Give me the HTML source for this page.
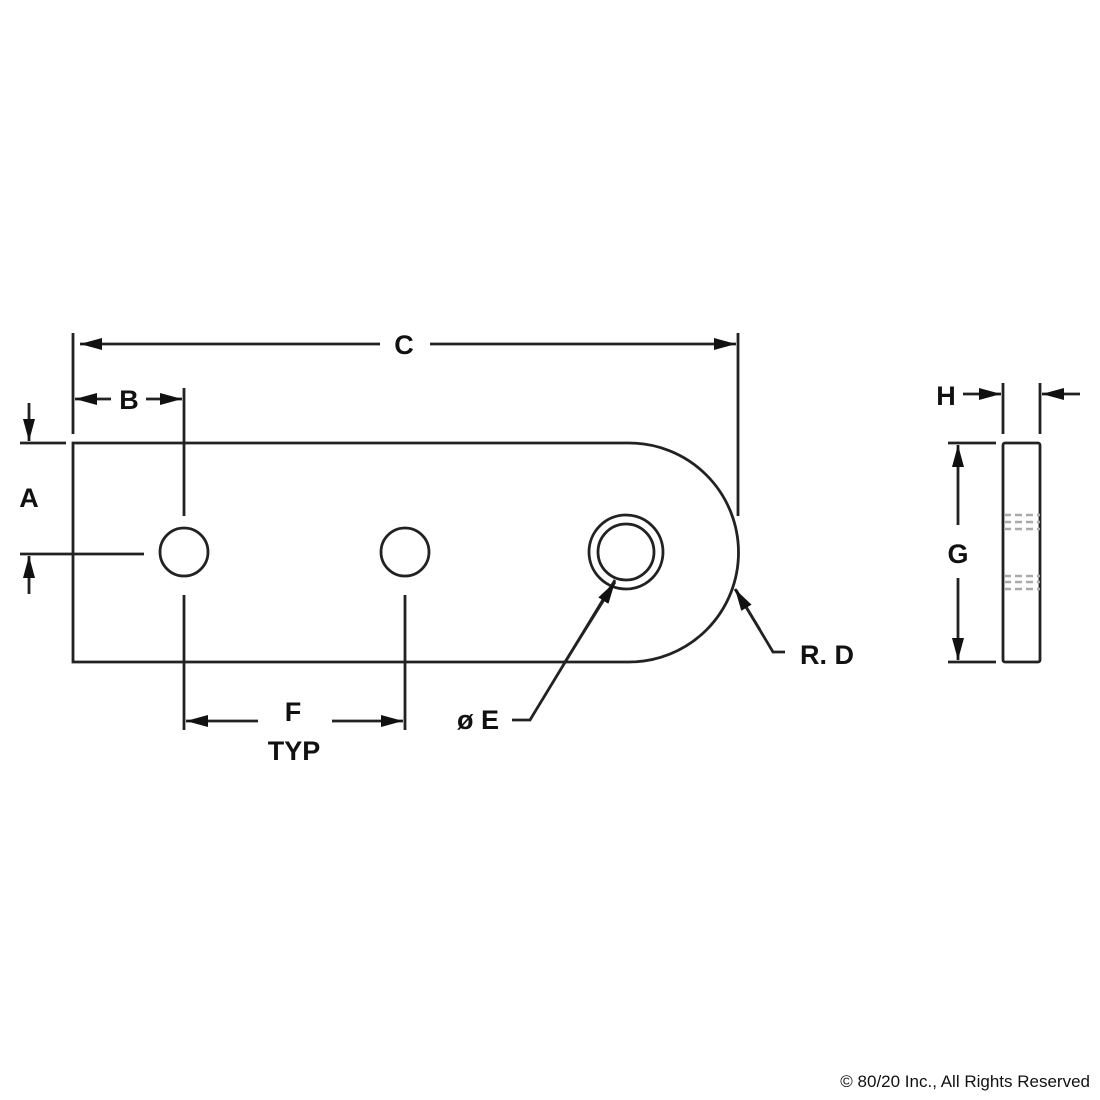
<!DOCTYPE html>
<html><head><meta charset="utf-8"><style>
html,body{margin:0;padding:0;background:#fff;}
svg{display:block}
text{font-family:"Liberation Sans",Arial,sans-serif;fill:#111;}
</style></head><body>
<svg width="1100" height="1100" viewBox="0 0 1100 1100" xmlns="http://www.w3.org/2000/svg">
<defs>
<marker id="ar" viewBox="0 0 22 12" refX="22" refY="6" markerWidth="22" markerHeight="12" markerUnits="userSpaceOnUse" orient="auto">
<path d="M0,0 L22,6 L0,12 Z" fill="#111"/>
</marker>
</defs>
<g stroke="#222" stroke-width="2.8" fill="none">
<path d="M73,443 L629,443 A109.5,109.5 0 0 1 629,662 L73,662 Z"/>
<circle cx="184" cy="552" r="24"/>
<circle cx="405" cy="552" r="24"/>
<circle cx="626" cy="552" r="37"/>
<circle cx="626" cy="552" r="28"/>
<line x1="73" y1="333" x2="73" y2="434"/>
<line x1="738" y1="333" x2="738" y2="516"/>
<line x1="184" y1="388" x2="184" y2="516"/>
<line x1="184" y1="595" x2="184" y2="730"/>
<line x1="405" y1="595" x2="405" y2="730"/>
<line x1="20" y1="443" x2="66" y2="443"/>
<line x1="20" y1="554" x2="144" y2="554"/>
<line x1="300" y1="344" x2="80" y2="344" marker-end="url(#ar)"/>
<line x1="300" y1="344" x2="380" y2="344"/>
<line x1="430" y1="344" x2="736" y2="344" marker-end="url(#ar)"/>
<line x1="111" y1="399" x2="75" y2="399" marker-end="url(#ar)"/>
<line x1="146" y1="399" x2="182" y2="399" marker-end="url(#ar)"/>
<line x1="29" y1="403" x2="29" y2="441" marker-end="url(#ar)"/>
<line x1="29" y1="594" x2="29" y2="556" marker-end="url(#ar)"/>
<line x1="258" y1="721" x2="186" y2="721" marker-end="url(#ar)"/>
<line x1="332" y1="721" x2="403" y2="721" marker-end="url(#ar)"/>
<polyline points="512,720 530,720 615,580"/>
<line x1="565" y1="662" x2="615" y2="582" marker-end="url(#ar)"/>
<polyline points="785,652 773,652 736,590"/>
<line x1="760" y1="630" x2="735" y2="589" marker-end="url(#ar)"/>
<rect x="1003" y="443" width="37" height="219" rx="2"/>
<line x1="1003" y1="383" x2="1003" y2="434"/>
<line x1="1040" y1="383" x2="1040" y2="434"/>
<line x1="963" y1="394" x2="1001" y2="394" marker-end="url(#ar)"/>
<line x1="1080" y1="394" x2="1042" y2="394" marker-end="url(#ar)"/>
<line x1="948" y1="443" x2="996" y2="443"/>
<line x1="948" y1="662" x2="996" y2="662"/>
<line x1="958" y1="525" x2="958" y2="445" marker-end="url(#ar)"/>
<line x1="958" y1="578" x2="958" y2="660" marker-end="url(#ar)"/>
</g>
<g stroke="#aaa" stroke-width="2.5" stroke-dasharray="7,4">
<line x1="1004" y1="515" x2="1040" y2="515"/>
<line x1="1004" y1="522" x2="1040" y2="522"/>
<line x1="1004" y1="529" x2="1040" y2="529"/>
<line x1="1004" y1="576" x2="1040" y2="576"/>
<line x1="1004" y1="582" x2="1040" y2="582"/>
<line x1="1004" y1="589" x2="1040" y2="589"/>
</g>
<g font-size="27" font-weight="bold" text-anchor="middle">
<text x="404" y="354">C</text>
<text x="129" y="409">B</text>
<text x="29" y="507">A</text>
<text x="293" y="721">F</text>
<text x="294" y="760">TYP</text>
<text x="946" y="405">H</text>
<text x="958" y="563">G</text>
<text x="478" y="729">ø E</text>
<text x="827" y="664">R. D</text>
</g>
<text x="1090" y="1087" font-size="17" text-anchor="end">© 80/20 Inc., All Rights Reserved</text>
</svg>
</body></html>
